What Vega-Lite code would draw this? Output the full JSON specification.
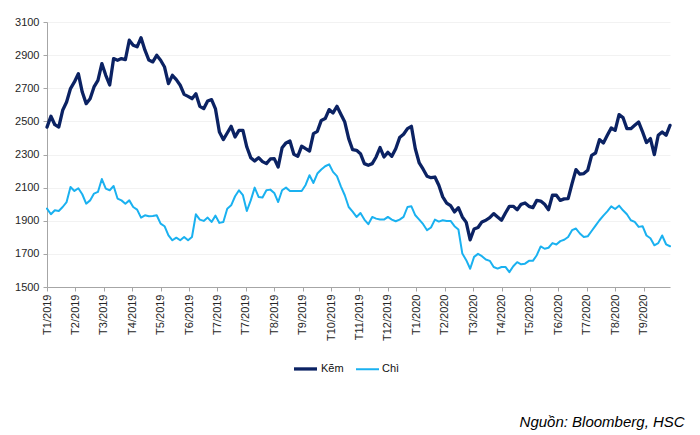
{
  "$schema": "https://vega.github.io/schema/vega-lite/v6.json",
  "autosize": {"type": "none"},
  "padding": {"left": 47, "top": 22, "right": 30, "bottom": 148},
  "width": 623,
  "height": 265,
  "background": "white",
  "config": {
    "font": "Liberation Sans",
    "view": {"stroke": null}
  },
  "title": {
    "text": "Nguồn: Bloomberg, HSC",
    "orient": "bottom",
    "anchor": "end",
    "font": "Liberation Sans",
    "fontStyle": "italic",
    "fontWeight": "normal",
    "fontSize": 15,
    "color": "#000000",
    "dx": 13,
    "offset": 39
  },
  "data": {
    "values": [
      {"d": "2019-01-02", "Kẽm": 2465, "Chì": 1973},
      {"d": "2019-01-06", "Kẽm": 2531, "Chì": 1939},
      {"d": "2019-01-10", "Kẽm": 2480, "Chì": 1963},
      {"d": "2019-01-14", "Kẽm": 2466, "Chì": 1959},
      {"d": "2019-01-18", "Kẽm": 2567, "Chì": 1983},
      {"d": "2019-01-22", "Kẽm": 2617, "Chì": 2013},
      {"d": "2019-01-26", "Kẽm": 2698, "Chì": 2104},
      {"d": "2019-01-30", "Kẽm": 2738, "Chì": 2080},
      {"d": "2019-02-03", "Kẽm": 2788, "Chì": 2096},
      {"d": "2019-02-07", "Kẽm": 2677, "Chì": 2060},
      {"d": "2019-02-11", "Kẽm": 2607, "Chì": 2003},
      {"d": "2019-02-15", "Kẽm": 2637, "Chì": 2023},
      {"d": "2019-02-19", "Kẽm": 2708, "Chì": 2064},
      {"d": "2019-02-23", "Kẽm": 2748, "Chì": 2074},
      {"d": "2019-02-27", "Kẽm": 2849, "Chì": 2152},
      {"d": "2019-03-03", "Kẽm": 2778, "Chì": 2094},
      {"d": "2019-03-07", "Kẽm": 2720, "Chì": 2084},
      {"d": "2019-03-11", "Kẽm": 2879, "Chì": 2110},
      {"d": "2019-03-15", "Kẽm": 2869, "Chì": 2034},
      {"d": "2019-03-19", "Kẽm": 2879, "Chì": 2023},
      {"d": "2019-03-23", "Kẽm": 2873, "Chì": 2003},
      {"d": "2019-03-27", "Kẽm": 2990, "Chì": 2023},
      {"d": "2019-03-31", "Kẽm": 2960, "Chì": 1983},
      {"d": "2019-04-04", "Kẽm": 2950, "Chì": 1967},
      {"d": "2019-04-08", "Kẽm": 3005, "Chì": 1919},
      {"d": "2019-04-12", "Kẽm": 2930, "Chì": 1933},
      {"d": "2019-04-16", "Kẽm": 2870, "Chì": 1927},
      {"d": "2019-04-20", "Kẽm": 2859, "Chì": 1929},
      {"d": "2019-04-24", "Kẽm": 2899, "Chì": 1933},
      {"d": "2019-04-28", "Kẽm": 2869, "Chì": 1883},
      {"d": "2019-05-02", "Kẽm": 2828, "Chì": 1867},
      {"d": "2019-05-06", "Kẽm": 2728, "Chì": 1812},
      {"d": "2019-05-10", "Kẽm": 2778, "Chì": 1782},
      {"d": "2019-05-14", "Kẽm": 2752, "Chì": 1798},
      {"d": "2019-05-18", "Kẽm": 2718, "Chì": 1782},
      {"d": "2019-05-22", "Kẽm": 2663, "Chì": 1802},
      {"d": "2019-05-26", "Kẽm": 2651, "Chì": 1782},
      {"d": "2019-05-30", "Kẽm": 2637, "Chì": 1802},
      {"d": "2019-06-03", "Kẽm": 2667, "Chì": 1939},
      {"d": "2019-06-07", "Kẽm": 2591, "Chì": 1907},
      {"d": "2019-06-11", "Kẽm": 2577, "Chì": 1899},
      {"d": "2019-06-15", "Kẽm": 2623, "Chì": 1919},
      {"d": "2019-06-19", "Kẽm": 2631, "Chì": 1893},
      {"d": "2019-06-23", "Kẽm": 2575, "Chì": 1931},
      {"d": "2019-06-27", "Kẽm": 2436, "Chì": 1887},
      {"d": "2019-07-01", "Kẽm": 2390, "Chì": 1893},
      {"d": "2019-07-05", "Kẽm": 2430, "Chì": 1973},
      {"d": "2019-07-09", "Kẽm": 2470, "Chì": 1993},
      {"d": "2019-07-13", "Kẽm": 2406, "Chì": 2048},
      {"d": "2019-07-17", "Kẽm": 2446, "Chì": 2084},
      {"d": "2019-07-21", "Kẽm": 2446, "Chì": 2054},
      {"d": "2019-07-25", "Kẽm": 2345, "Chì": 1959},
      {"d": "2019-07-29", "Kẽm": 2281, "Chì": 2023},
      {"d": "2019-08-02", "Kẽm": 2261, "Chì": 2100},
      {"d": "2019-08-06", "Kẽm": 2281, "Chì": 2044},
      {"d": "2019-08-10", "Kẽm": 2257, "Chì": 2040},
      {"d": "2019-08-14", "Kẽm": 2245, "Chì": 2084},
      {"d": "2019-08-18", "Kẽm": 2273, "Chì": 2088},
      {"d": "2019-08-22", "Kẽm": 2275, "Chì": 2068},
      {"d": "2019-08-26", "Kẽm": 2225, "Chì": 2013},
      {"d": "2019-08-30", "Kẽm": 2341, "Chì": 2084},
      {"d": "2019-09-03", "Kẽm": 2370, "Chì": 2100},
      {"d": "2019-09-07", "Kẽm": 2382, "Chì": 2080},
      {"d": "2019-09-11", "Kẽm": 2301, "Chì": 2080},
      {"d": "2019-09-15", "Kẽm": 2289, "Chì": 2080},
      {"d": "2019-09-19", "Kẽm": 2350, "Chì": 2080},
      {"d": "2019-09-23", "Kẽm": 2335, "Chì": 2116},
      {"d": "2019-09-27", "Kẽm": 2321, "Chì": 2175},
      {"d": "2019-10-01", "Kẽm": 2426, "Chì": 2128},
      {"d": "2019-10-05", "Kẽm": 2440, "Chì": 2185},
      {"d": "2019-10-09", "Kẽm": 2506, "Chì": 2209},
      {"d": "2019-10-13", "Kẽm": 2517, "Chì": 2229},
      {"d": "2019-10-17", "Kẽm": 2571, "Chì": 2241},
      {"d": "2019-10-21", "Kẽm": 2551, "Chì": 2195},
      {"d": "2019-10-25", "Kẽm": 2591, "Chì": 2169},
      {"d": "2019-10-29", "Kẽm": 2543, "Chì": 2108},
      {"d": "2019-11-02", "Kẽm": 2496, "Chì": 2054},
      {"d": "2019-11-06", "Kẽm": 2396, "Chì": 1983},
      {"d": "2019-11-10", "Kẽm": 2329, "Chì": 1955},
      {"d": "2019-11-14", "Kẽm": 2325, "Chì": 1923},
      {"d": "2019-11-18", "Kẽm": 2305, "Chì": 1947},
      {"d": "2019-11-22", "Kẽm": 2245, "Chì": 1907},
      {"d": "2019-11-26", "Kẽm": 2235, "Chì": 1879},
      {"d": "2019-11-30", "Kẽm": 2245, "Chì": 1923},
      {"d": "2019-12-04", "Kẽm": 2285, "Chì": 1913},
      {"d": "2019-12-08", "Kẽm": 2342, "Chì": 1907},
      {"d": "2019-12-12", "Kẽm": 2285, "Chì": 1907},
      {"d": "2019-12-16", "Kẽm": 2313, "Chì": 1923},
      {"d": "2019-12-20", "Kẽm": 2289, "Chì": 1907},
      {"d": "2019-12-24", "Kẽm": 2335, "Chì": 1897},
      {"d": "2019-12-28", "Kẽm": 2402, "Chì": 1907},
      {"d": "2020-01-01", "Kẽm": 2422, "Chì": 1923},
      {"d": "2020-01-05", "Kẽm": 2456, "Chì": 1983},
      {"d": "2020-01-09", "Kẽm": 2470, "Chì": 1987},
      {"d": "2020-01-13", "Kẽm": 2335, "Chì": 1933},
      {"d": "2020-01-17", "Kẽm": 2249, "Chì": 1907},
      {"d": "2020-01-21", "Kẽm": 2211, "Chì": 1879},
      {"d": "2020-01-25", "Kẽm": 2169, "Chì": 1843},
      {"d": "2020-01-29", "Kẽm": 2160, "Chì": 1859},
      {"d": "2020-02-02", "Kẽm": 2164, "Chì": 1907},
      {"d": "2020-02-06", "Kẽm": 2114, "Chì": 1895},
      {"d": "2020-02-10", "Kẽm": 2044, "Chì": 1903},
      {"d": "2020-02-14", "Kẽm": 2007, "Chì": 1899},
      {"d": "2020-02-18", "Kẽm": 1991, "Chì": 1899},
      {"d": "2020-02-22", "Kẽm": 1953, "Chì": 1867},
      {"d": "2020-02-26", "Kẽm": 1979, "Chì": 1847},
      {"d": "2020-03-01", "Kẽm": 1923, "Chì": 1702},
      {"d": "2020-03-05", "Kẽm": 1890, "Chì": 1662},
      {"d": "2020-03-09", "Kẽm": 1785, "Chì": 1610},
      {"d": "2020-03-13", "Kẽm": 1850, "Chì": 1682},
      {"d": "2020-03-17", "Kẽm": 1859, "Chì": 1700},
      {"d": "2020-03-21", "Kẽm": 1893, "Chì": 1686},
      {"d": "2020-03-25", "Kẽm": 1903, "Chì": 1666},
      {"d": "2020-03-29", "Kẽm": 1919, "Chì": 1658},
      {"d": "2020-04-02", "Kẽm": 1943, "Chì": 1621},
      {"d": "2020-04-06", "Kẽm": 1923, "Chì": 1611},
      {"d": "2020-04-10", "Kẽm": 1903, "Chì": 1621},
      {"d": "2020-04-14", "Kẽm": 1947, "Chì": 1621},
      {"d": "2020-04-18", "Kẽm": 1987, "Chì": 1590},
      {"d": "2020-04-22", "Kẽm": 1987, "Chì": 1625},
      {"d": "2020-04-26", "Kẽm": 1967, "Chì": 1650},
      {"d": "2020-04-30", "Kẽm": 1999, "Chì": 1637},
      {"d": "2020-05-04", "Kẽm": 2007, "Chì": 1641},
      {"d": "2020-05-08", "Kẽm": 1987, "Chì": 1658},
      {"d": "2020-05-12", "Kẽm": 1979, "Chì": 1658},
      {"d": "2020-05-16", "Kẽm": 2023, "Chì": 1692},
      {"d": "2020-05-20", "Kẽm": 2019, "Chì": 1745},
      {"d": "2020-05-24", "Kẽm": 1999, "Chì": 1731},
      {"d": "2020-05-28", "Kẽm": 1967, "Chì": 1737},
      {"d": "2020-06-01", "Kẽm": 2054, "Chì": 1765},
      {"d": "2020-06-05", "Kẽm": 2054, "Chì": 1757},
      {"d": "2020-06-09", "Kẽm": 2023, "Chì": 1777},
      {"d": "2020-06-13", "Kẽm": 2032, "Chì": 1785},
      {"d": "2020-06-17", "Kẽm": 2034, "Chì": 1802},
      {"d": "2020-06-21", "Kẽm": 2124, "Chì": 1843},
      {"d": "2020-06-25", "Kẽm": 2209, "Chì": 1853},
      {"d": "2020-06-29", "Kẽm": 2181, "Chì": 1823},
      {"d": "2020-07-03", "Kẽm": 2185, "Chì": 1802},
      {"d": "2020-07-07", "Kẽm": 2205, "Chì": 1806},
      {"d": "2020-07-11", "Kẽm": 2295, "Chì": 1838},
      {"d": "2020-07-15", "Kẽm": 2309, "Chì": 1871},
      {"d": "2020-07-19", "Kẽm": 2390, "Chì": 1903},
      {"d": "2020-07-23", "Kẽm": 2370, "Chì": 1931},
      {"d": "2020-07-27", "Kẽm": 2416, "Chì": 1957},
      {"d": "2020-07-31", "Kẽm": 2460, "Chì": 1987},
      {"d": "2020-08-04", "Kẽm": 2446, "Chì": 1971},
      {"d": "2020-08-08", "Kẽm": 2541, "Chì": 1991},
      {"d": "2020-08-12", "Kẽm": 2523, "Chì": 1963},
      {"d": "2020-08-16", "Kẽm": 2456, "Chì": 1939},
      {"d": "2020-08-20", "Kẽm": 2456, "Chì": 1903},
      {"d": "2020-08-24", "Kẽm": 2476, "Chì": 1893},
      {"d": "2020-08-28", "Kẽm": 2496, "Chì": 1863},
      {"d": "2020-09-01", "Kẽm": 2436, "Chì": 1867},
      {"d": "2020-09-05", "Kẽm": 2372, "Chì": 1811},
      {"d": "2020-09-09", "Kẽm": 2396, "Chì": 1794},
      {"d": "2020-09-13", "Kẽm": 2299, "Chì": 1752},
      {"d": "2020-09-17", "Kẽm": 2416, "Chì": 1765},
      {"d": "2020-09-21", "Kẽm": 2436, "Chì": 1811},
      {"d": "2020-09-25", "Kẽm": 2416, "Chì": 1758},
      {"d": "2020-09-29", "Kẽm": 2476, "Chì": 1746}
    ]
  },
  "transform": [
    {"fold": ["Kẽm", "Chì"], "as": ["kim_loai", "gia"]}
  ],
  "mark": {"type": "line", "strokeJoin": "round", "strokeCap": "round"},
  "encoding": {
    "x": {
      "field": "d",
      "type": "temporal",
      "scale": {"type": "utc", "domain": [1546387200000, 1601337600000]},
      "axis": {
        "title": null,
        "grid": false,
        "values": [1546387200000, 1548892800000, 1551398400000, 1553904000000, 1556409600000, 1558915200000, 1561420800000, 1563926400000, 1566432000000, 1568937600000, 1571443200000, 1573948800000, 1576454400000, 1578960000000, 1581465600000, 1583971200000, 1586476800000, 1588982400000, 1591488000000, 1593993600000, 1596499200000, 1599004800000],
        "labelExpr": "['T1/2019','T2/2019','T3/2019','T4/2019','T5/2019','T6/2019','T7/2019','T7/2019','T8/2019','T9/2019','T10/2019','T11/2019','T12/2019','T1/2020','T2/2020','T3/2020','T4/2020','T5/2020','T6/2020','T7/2020','T8/2020','T9/2020'][round((datum.value - 1546387200000) / 2505600000)]",
        "labelAngle": -90,
        "labelAlign": "right",
        "labelBaseline": "middle",
        "labelFont": "Liberation Sans",
        "labelFontSize": 11,
        "labelColor": "#262626",
        "labelPadding": 3,
        "labelOverlap": false,
        "labelFlush": false,
        "domainColor": "#a6a6a6",
        "domainWidth": 1,
        "tickColor": "#a6a6a6",
        "tickSize": 4
      }
    },
    "y": {
      "field": "gia",
      "type": "quantitative",
      "scale": {"domain": [1500, 3100], "nice": false, "zero": false},
      "axis": {
        "title": null,
        "format": "d",
        "values": [1500, 1700, 1900, 2100, 2300, 2500, 2700, 2900, 3100],
        "grid": true,
        "gridColor": "#f2f2f2",
        "gridWidth": 1,
        "labelFont": "Liberation Sans",
        "labelFontSize": 11,
        "labelColor": "#262626",
        "labelPadding": 4,
        "domainColor": "#a6a6a6",
        "domainWidth": 1,
        "tickColor": "#a6a6a6",
        "tickSize": 4
      }
    },
    "color": {
      "field": "kim_loai",
      "type": "nominal",
      "scale": {"domain": ["Kẽm", "Chì"], "range": ["#0b2263", "#1ab1f0"]},
      "legend": {
        "title": null,
        "orient": "none",
        "legendX": 245,
        "legendY": 333,
        "direction": "horizontal",
        "padding": 0,
        "symbolType": "stroke",
        "symbolSize": 529,
        "symbolStrokeWidth": 3,
        "labelFont": "Liberation Sans",
        "labelFontSize": 11,
        "labelColor": "#111111",
        "labelOffset": 2,
        "columnPadding": 8
      }
    },
    "strokeWidth": {
      "field": "kim_loai",
      "type": "nominal",
      "scale": {"domain": ["Kẽm", "Chì"], "range": [3.3, 2]},
      "legend": null
    }
  }
}
